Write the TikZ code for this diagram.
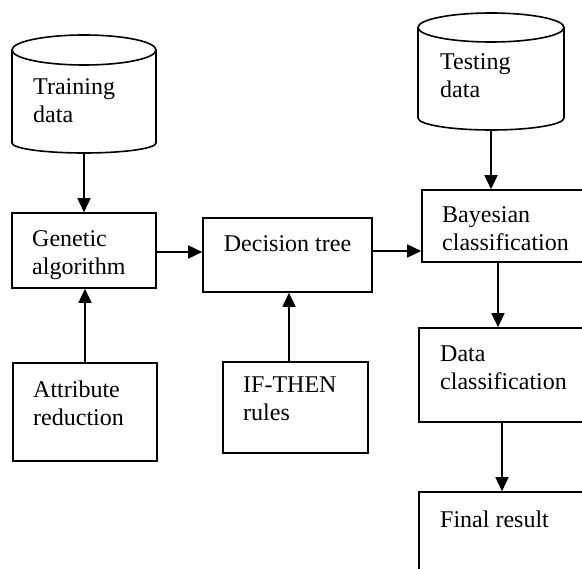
\documentclass[tikz,border=0pt]{standalone}
\usepackage{fontspec}
\setmainfont{Liberation Serif}
\usetikzlibrary{arrows.meta}

\begin{document}
\begin{tikzpicture}[x=1pt,y=-1pt,
  every node/.style={font=\fontsize{24}{28}\selectfont},
  box/.style={draw,line width=1.6pt,rectangle,inner sep=0pt},
  txt/.style={align=left,inner sep=0pt,anchor=north west},
  arr/.style={line width=1.6pt,-{Triangle[length=14pt,width=13pt]}}]
\useasboundingbox (0,0) rectangle (582,569);
\clip (0,0) rectangle (582,569);
% data stores
\draw[line width=1.6pt] (84,50) ellipse [x radius=72pt,y radius=15pt];
\draw[line width=1.6pt] (12,50) -- (12,143) arc[start angle=180,end angle=360,x radius=72pt,y radius=10pt] -- (156,50);
\coordinate (train) at (84,153);
\draw[line width=1.6pt] (491,27.5) ellipse [x radius=73pt,y radius=14.5pt];
\draw[line width=1.6pt] (418,27.5) -- (418,118) arc[start angle=180,end angle=360,x radius=73pt,y radius=12pt] -- (564,27.5);
\coordinate (test) at (491,130);
% boxes
\node[box,minimum width=144pt,minimum height=75pt] (ga) at (84,250.5) {};
\node[box,minimum width=144pt,minimum height=98pt] (attr) at (85,412) {};
\node[box,minimum width=169pt,minimum height=74pt] (dt) at (287.5,255) {};
\node[box,minimum width=145pt,minimum height=91pt] (rules) at (295.5,407.5) {};
\node[box,minimum width=178pt,minimum height=72pt] (bayes) at (511,226) {};
\node[box,minimum width=181pt,minimum height=94pt] (dc) at (509.5,375) {};
\node[box,minimum width=181pt,minimum height=108pt] (final) at (509.5,546) {};
% texts
\node[txt] (train-t) at (33,78.6) {Training\\data};
\node[txt] (test-t) at (440,53.6) {Testing\\data};
\node[txt] (ga-t) at (32,230.6) {Genetic\\algorithm};
\node[txt] (attr-t) at (33,380.6) {Attribute\\reduction};
\node[txt,anchor=north] (dt-t) at (287.5,235.6) {Decision tree};
\node[txt] (rules-t) at (243,376.6) {IF-THEN\\rules};
\node[txt] (bayes-t) at (442,206.6) {Bayesian\\classification};
\node[txt] (dc-t) at (440,345.6) {Data\\classification};
\node[txt] (final-t) at (440,510.6) {Final result};
% connectors
\draw[arr] (train) -- (train |- ga.north);
\draw[arr] (attr.north) -- (attr.north |- ga.south);
\draw[arr] ([yshift=-1.5pt]ga.east) -- ([yshift=-1.5pt]ga.east -| dt.west);
\draw[arr] ([xshift=1.5pt]dt.south |- rules.north) -- ([xshift=1.5pt]dt.south);
\draw[arr] ([yshift=4pt]dt.east) -- ([yshift=4pt]dt.east -| bayes.west);
\draw[arr] (test) -- (test |- bayes.north);
\draw[arr] ([xshift=-13pt]bayes.south) -- ([xshift=-13pt]bayes.south |- dc.north);
\draw[arr] ([xshift=-7.5pt]dc.south) -- ([xshift=-7.5pt]dc.south |- final.north);
\end{tikzpicture}
\end{document}
